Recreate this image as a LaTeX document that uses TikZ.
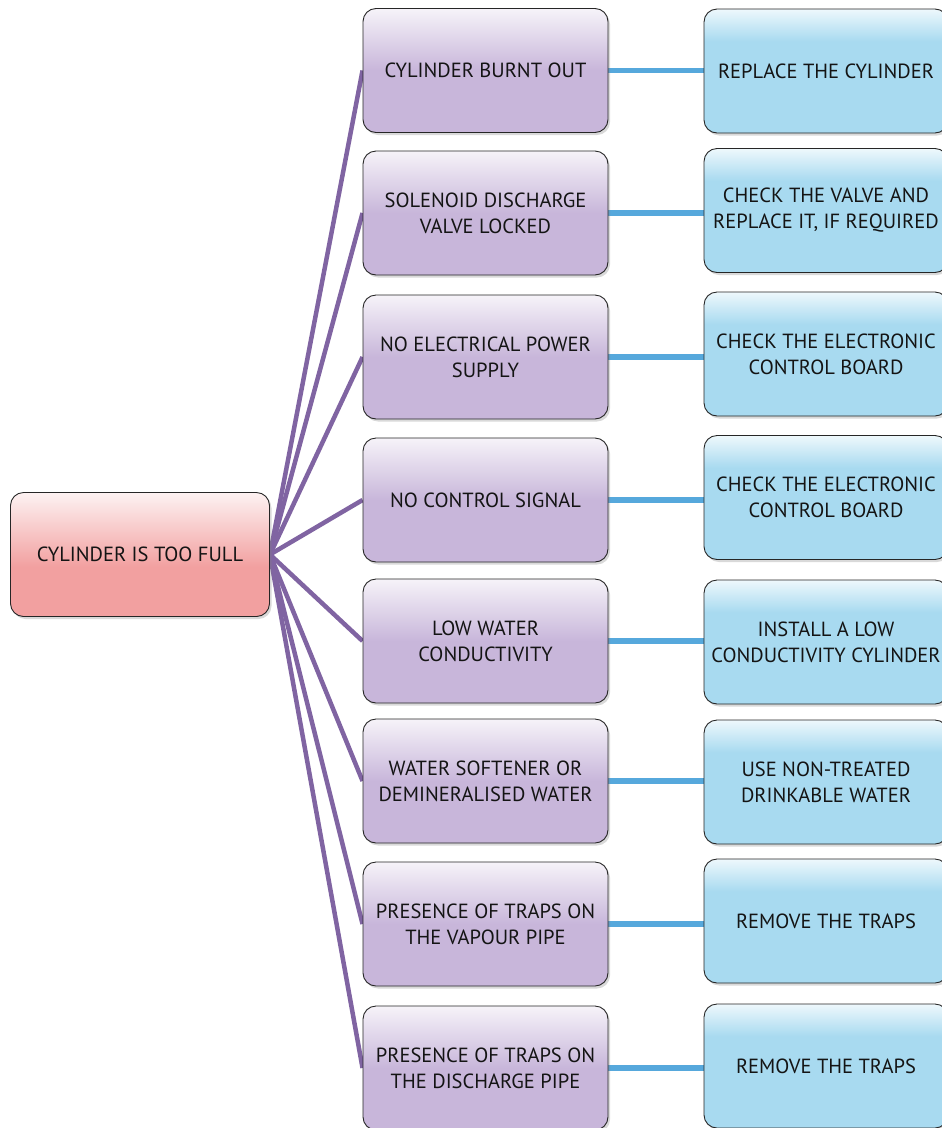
\documentclass[tikz,border=0pt]{standalone}
\usepackage{fontspec}
\setmainfont{PT Sans}
\usetikzlibrary{shadows,backgrounds}

\definecolor{rootbase}{HTML}{F2A0A0}
\definecolor{roottop}{HTML}{FDF2F2}
\definecolor{causebase}{HTML}{C8B6DA}
\definecolor{causetop}{HTML}{F6F3F9}
\definecolor{fixbase}{HTML}{A8DAF0}
\definecolor{fixtop}{HTML}{EEF8FC}
\definecolor{causeline}{HTML}{8064A2}
\definecolor{fixline}{HTML}{56A8DC}
\definecolor{ink}{HTML}{141414}

% vertical shadings: the node spans 25bp (bottom) to 75bp (top)
\pgfdeclareverticalshading{rootshade}{100bp}{color(0bp)=(rootbase); color(25bp)=(rootbase); color(45bp)=(rootbase); color(75bp)=(roottop); color(100bp)=(roottop)}
\pgfdeclareverticalshading{causeshade}{100bp}{color(0bp)=(causebase); color(25bp)=(causebase); color(50bp)=(causebase); color(75bp)=(causetop); color(100bp)=(causetop)}
\pgfdeclareverticalshading{fixshade}{100bp}{color(0bp)=(fixbase); color(25bp)=(fixbase); color(62bp)=(fixbase); color(75bp)=(fixtop); color(100bp)=(fixtop)}

\tikzset{
  card/.style={draw=black!85, line width=0.9pt, rounded corners=13pt,
    align=center, text=ink, font=\fontsize{20.5}{26}\selectfont,
    drop shadow={shadow xshift=2pt, shadow yshift=-2.5pt, opacity=0.3}},
  rootbox/.style={card, shading=rootshade, minimum width=259pt, minimum height=124pt},
  causebox/.style={card, shading=causeshade, minimum width=245pt, minimum height=124pt},
  fixbox/.style={card, shading=fixshade, minimum width=244pt, minimum height=124pt},
  causelink/.style={draw=causeline, line width=4.5pt},
  fixlink/.style={draw=fixline, line width=5.5pt}
}

\begin{document}
\begin{tikzpicture}[x=1pt, y=-1pt]
\useasboundingbox (0,0) rectangle (942,1128);

\node[rootbox] (root) at (140,554.5) {CYLINDER IS TOO FULL};

\node[causebox] (c1) at (485.5,70.5) {CYLINDER BURNT OUT};
\node[causebox] (c2) at (485.5,213) {SOLENOID DISCHARGE\\VALVE LOCKED};
\node[causebox] (c3) at (485.5,357) {NO ELECTRICAL POWER\\SUPPLY};
\node[causebox] (c4) at (485.5,500) {NO CONTROL SIGNAL};
\node[causebox] (c5) at (485.5,641) {LOW WATER\\CONDUCTIVITY};
\node[causebox] (c6) at (485.5,781) {WATER SOFTENER OR\\DEMINERALISED WATER};
\node[causebox] (c7) at (485.5,924) {PRESENCE OF TRAPS ON\\THE VAPOUR PIPE};
\node[causebox] (c8) at (485.5,1068) {PRESENCE OF TRAPS ON\\THE DISCHARGE PIPE};

\node[fixbox] (s1) at (826,71) {REPLACE THE CYLINDER};
\node[fixbox] (s2) at (826,210.5) {CHECK THE VALVE AND\\REPLACE IT, IF REQUIRED};
\node[fixbox] (s3) at (826,354) {CHECK THE ELECTRONIC\\CONTROL BOARD};
\node[fixbox] (s4) at (826,497.5) {CHECK THE ELECTRONIC\\CONTROL BOARD};
\node[fixbox] (s5) at (826,642) {INSTALL A LOW\\CONDUCTIVITY CYLINDER};
\node[fixbox] (s6) at (826,782) {USE NON-TREATED\\DRINKABLE WATER};
\node[fixbox] (s7) at (826,921) {REMOVE THE TRAPS};
\node[fixbox] (s8) at (826,1066) {REMOVE THE TRAPS};

\begin{scope}[on background layer]
  \foreach \i in {1,...,8} {
    \draw[causelink] (root.east) -- (c\i.west);
    \draw[fixlink] (c\i.east) -- (c\i.east -| s\i.west);
  }
\end{scope}
\end{tikzpicture}
\end{document}
